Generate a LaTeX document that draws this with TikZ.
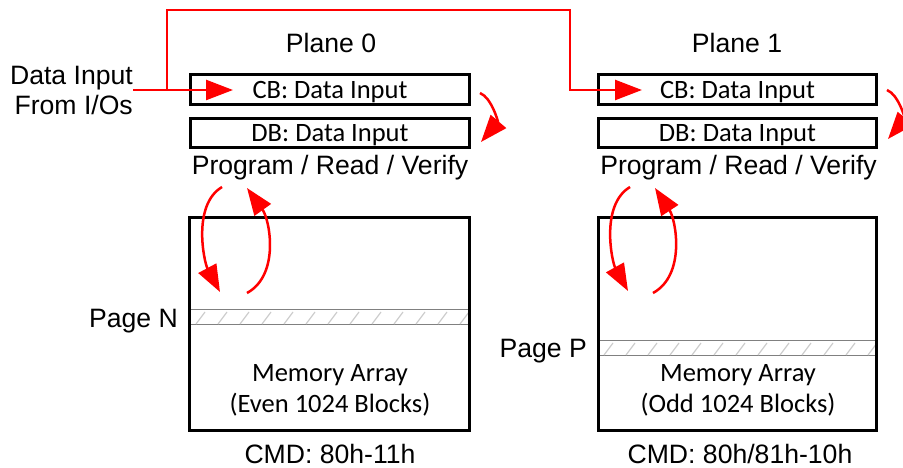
\documentclass[tikz,border=0pt]{standalone}
\usepackage{fontspec}
\setmainfont{Liberation Sans}
\newfontfamily\boxfont{Carlito}
\usetikzlibrary{arrows.meta}

\begin{document}
\begin{tikzpicture}[x=1pt,y=-1pt,
    lbl/.style={font=\fontsize{26.6}{30}\selectfont, inner sep=0pt},
    txt/.style={font=\boxfont\fontsize{26.5}{31.3}\selectfont, inner sep=0pt},
    buf/.style={draw, line width=3pt, inner sep=0pt, text depth=0pt,
      font=\boxfont\fontsize{26.5}{30}\selectfont},
    arr/.style={draw, line width=3pt, inner sep=0pt},
    page/.style={draw=gray, line width=1pt, inner sep=0pt},
    hatch/.style={gray!40, line width=1.2pt},
    flow/.style={red, line width=2.5pt, -{Triangle[length=27pt,width=20pt]}}]
  \useasboundingbox (0,0) rectangle (903,468);

  % plane 0
  \node[lbl, anchor=base] (p0) at (331,53) {Plane 0};
  \node[buf, minimum width=279pt, minimum height=30pt] (cb0) at (330,89.5) {CB: Data Input};
  \node[buf, minimum width=279pt, minimum height=29pt] (db0) at (330,133) {DB: Data Input};
  \node[lbl, anchor=base] (prv0) at (330,175) {Program / Read / Verify};
  \node[page, minimum width=280pt, minimum height=15pt] (pgN) at (329.5,317) {};
  \begin{scope}
    \clip (pgN.south west) rectangle (pgN.north east);
    \foreach \x in {196,218,...,470}
      \draw[hatch] (\x,324) -- ({\x+9},312);
  \end{scope}
  \node[arr, minimum width=280pt, minimum height=213pt] (mem0) at (329.5,324) {};
  \node[lbl, anchor=base east] (pn) at (178,327) {Page N};
  \node[txt, anchor=base, align=center] (mt0) at (330,412.5) {Memory Array\\(Even 1024 Blocks)};
  \node[lbl, anchor=base] (cmd0) at (330,463) {CMD: 80h-11h};

  % plane 1
  \node[lbl, anchor=base] (p1) at (737,53) {Plane 1};
  \node[buf, minimum width=278pt, minimum height=30pt] (cb1) at (737.5,89.5) {CB: Data Input};
  \node[buf, minimum width=278pt, minimum height=29pt] (db1) at (737.5,133) {DB: Data Input};
  \node[lbl, anchor=base] (prv1) at (738.5,175) {Program / Read / Verify};
  \node[page, minimum width=278pt, minimum height=15pt] (pgP) at (737.5,347.5) {};
  \begin{scope}
    \clip (pgP.south west) rectangle (pgP.north east);
    \foreach \x in {604,626,...,878}
      \draw[hatch] (\x,355) -- ({\x+9},343);
  \end{scope}
  \node[arr, minimum width=278pt, minimum height=213pt] (mem1) at (737.5,324) {};
  \node[lbl, anchor=base east] (pp) at (587,357) {Page P};
  \node[txt, anchor=base, align=center] (mt1) at (738,412.5) {Memory Array\\(Odd 1024 Blocks)};
  \node[lbl, anchor=base] (cmd1) at (740,463) {CMD: 80h/81h-10h};

  % data input route
  \node[lbl, anchor=east, align=right] (src) at (133,90) {Data Input\\From I/Os};
  \coordinate (fork) at (167,90);
  \coordinate (turn) at (570,10);
  \coordinate (in0) at (233,90);
  \coordinate (in1) at (642,90);
  \draw[flow] (src.east) -- (in0);
  \draw[flow] (fork) |- (turn) |- (in1);

  % cache to data buffer
  \coordinate (cd0) at (480,93);
  \coordinate (cd0e) at (481,142);
  \coordinate (cd1) at (887,90);
  \coordinate (cd1e) at (888,139);
  \draw[flow] (cd0) .. controls (492,98) and (498,122) .. (cd0e);
  \draw[flow] (cd1) .. controls (899,95) and (905,119) .. (cd1e);

  % program / read between buffer and array
  \coordinate (dn0) at (222,187);
  \coordinate (dn0e) at (220,292);
  \coordinate (up0) at (247,293);
  \coordinate (up0e) at (247,188);
  \coordinate (dn1) at (630,187);
  \coordinate (dn1e) at (628,291);
  \coordinate (up1) at (653,293);
  \coordinate (up1e) at (655,188);
  \draw[flow] (dn0) .. controls (192,205) and (204,262) .. (dn0e);
  \draw[flow] (up0) .. controls (280,275) and (270,220) .. (up0e);
  \draw[flow] (dn1) .. controls (600,205) and (612,262) .. (dn1e);
  \draw[flow] (up1) .. controls (686,275) and (676,220) .. (up1e);
\end{tikzpicture}
\end{document}
